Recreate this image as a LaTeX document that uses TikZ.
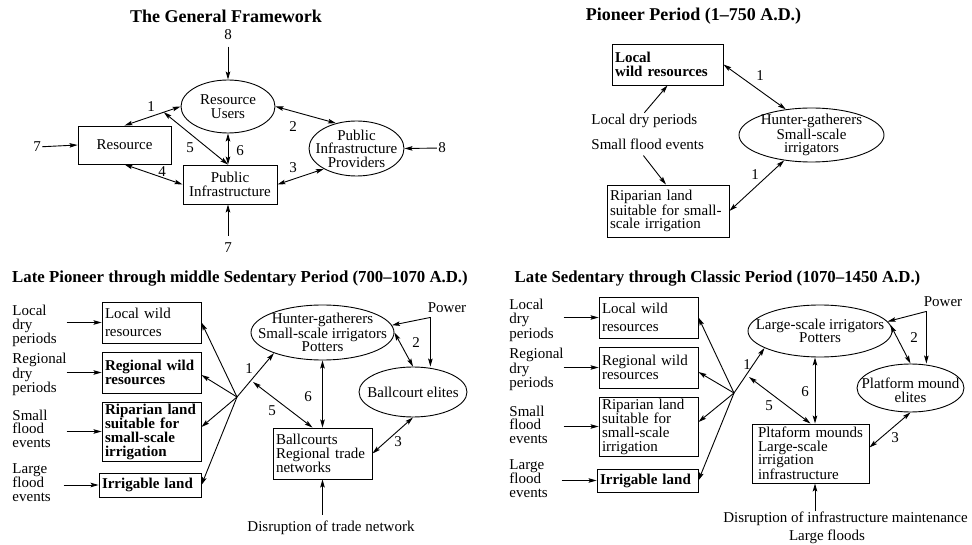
\documentclass[tikz,border=0pt]{standalone}
\usepackage{fontspec}
\setmainfont{Liberation Serif}
\usetikzlibrary{shapes.geometric,arrows.meta}
\newcommand{\diagfont}{\fontsize{15}{13.6}\selectfont}
\newcommand{\headfont}{\fontsize{18}{20}\selectfont\bfseries}

\begin{document}
\begin{tikzpicture}
[
x=1pt, y=-1pt,
line width=0.9pt,
every node/.style={font=\diagfont, inner sep=1pt},
title/.style={font=\headfont},
small title/.style={font=\fontsize{16.8}{20}\selectfont\bfseries},
box/.style={draw, align=left, inner xsep=3pt, inner ysep=0pt},
bold/.style={font=\diagfont\bfseries},
oval/.style={draw, ellipse, inner sep=0pt},
lbl/.style={anchor=west, align=left},
arr/.style={-{Stealth[length=8pt,width=4.5pt,inset=1.5pt]}},
darr/.style={{Stealth[length=8pt,width=4.5pt,inset=1.5pt]}-{Stealth[length=8pt,width=4.5pt,inset=1.5pt]}}
]
\useasboundingbox (0,0) rectangle (972,545);

% the general framework
\node[title] (t1) at (226,16) {The General Framework};
\node (e8a) at (228,35) {8};
\node[oval, minimum width=94pt, minimum height=53pt,
  label={[align=center]center:{Resource\\Users}}] (ru) at (228,106.5) {};
\node[box, align=center, minimum width=93pt, minimum height=38pt] (res) at (124.5,145) {Resource};
\node[box, align=center, minimum width=94pt, minimum height=39pt] (pi) at (230,184.5) {Public\\Infrastructure};
\node[oval, minimum width=95pt, minimum height=55pt,
  label={[align=center]center:{Public\\Infrastructure\\Providers}}] (pip) at (356.5,148.5) {};
\node (e7a) at (37,147) {7};
\node (e7b) at (228,248) {7};
\node (e8b) at (442,148) {8};
\draw[arr, shorten <=5pt] (e8a) -- (ru.north);
\draw[arr] (e7a) -- (res.west);
\draw[arr, shorten <=6pt] (e7b) -- (e7b |- pi.south);
\draw[arr] (e8b) -- (pip.east);
\path (res.north) -- coordinate[pos=0.7] (m1) (ru.west);
\draw[darr] (res.north) -- (ru.west);
\draw[darr] (m1) -- (ru.south |- pi.north);
\draw[darr] (ru.south) -- (ru.south |- pi.north);
\draw[darr] (ru.east) -- (pip.129);
\draw[darr] (pi.east) -- (pip.212);
\draw[darr] (res.south) -- (pi.west);
\node (n1a) at (151,107) {1};
\node (n5a) at (190,148) {5};
\node (n6a) at (240,151) {6};
\node (n2a) at (293,127) {2};
\node (n3a) at (293,168) {3};
\node (n4a) at (162,172) {4};

% pioneer period
\node[title] (t2) at (693.5,16) {Pioneer Period (1--750 A.D.)};
\node[box, bold, text width=105pt, minimum height=41pt] (lwr2) at (667.5,64.5) {Local\\wild resources};
\node[oval, minimum width=145pt, minimum height=54pt,
  label={[align=center]center:{Hunter-gatherers\\Small-scale\\irrigators}}] (hg2) at (811.5,135) {};
\node[box, text width=116pt, minimum height=52pt] (rip2) at (668,211) {Riparian land\\suitable for small-\\scale irrigation};
\node[anchor=west] (ldp2) at (590,121) {Local dry periods};
\node[anchor=west] (sfe2) at (590,144) {Small flood events};
\draw[darr] (lwr2.east) -- (hg2.135);
\draw[darr] (rip2.east) -- (hg2.223);
\draw[arr] (ldp2.north) -- (lwr2.south);
\draw[arr, shorten <=6pt] ([xshift=-8pt]sfe2.south) -- ([xshift=-2pt]rip2.north);
\node (n1b) at (760,76) {1};
\node (n1c) at (755,175) {1};

% late pioneer through middle sedentary
\node[small title] (t3) at (240,279) {Late Pioneer through middle Sedentary Period (700--1070 A.D.)};
\node[lbl] (ldp3) at (11,326) {Local\\dry\\periods};
\node[lbl] (rdp3) at (11,374.5) {Regional\\dry\\periods};
\node[lbl] (sfe3) at (11,428.5) {Small\\flood\\events};
\node[lbl] (lfe3) at (11,482.5) {Large\\flood\\events};
\node[box, text width=93pt, minimum height=41pt] (lw3) at (151.5,322.5) {Local wild\\[4.5pt]resources};
\node[box, bold, text width=93pt, minimum height=41pt] (rw3) at (151.5,372.5) {Regional wild\\resources};
\node[box, bold, text width=93pt, minimum height=59pt] (rl3) at (151.5,431.5) {Riparian land\\suitable for\\small-scale\\irrigation};
\node[box, bold, text width=96pt, minimum height=24pt] (il3) at (150,485) {Irrigable land};
\foreach \b in {lw3,rw3,rl3,il3}
  \draw[arr] ([xshift=-35pt]\b.west) -- (\b.west);
\node[oval, minimum width=143pt, minimum height=55pt,
  label={[align=center]center:{Hunter-gatherers\\Small-scale irrigators\\Potters}}] (hg3) at (322.5,332.5) {};
\node[oval, minimum width=108pt, minimum height=50pt,
  label={center:Ballcourt elites}] (be3) at (413,392) {};
\node[box, text width=93pt, minimum height=51pt] (bc3) at (322.5,453.5) {Ballcourts\\Regional trade\\networks};
\node (pw3) at (447,308) {Power};
\node (dis3) at (331,528) {Disruption of trade network};
\coordinate (fan3) at (237,397);
\coordinate (m3) at (253,382);
\coordinate (pj3) at ([xshift=4pt,yshift=-3pt]pw3.south west);
\draw[arr] (fan3) -- (lw3.east);
\draw[arr] (fan3) -- ([yshift=-2.5pt]rw3.east);
\draw[arr] (fan3) -- ([yshift=4.5pt]rl3.east);
\draw[arr] (fan3) -- (il3.east);
\draw[arr] (fan3) -- (hg3.203);
\draw[darr] (m3) -- ([xshift=-10pt]bc3.north);
\draw[darr] (hg3.south) -- (hg3.south |- bc3.north);
\draw[darr] (hg3.east) -- (be3.north);
\draw[arr] (pj3) -- (hg3.6);
\draw[arr] (pj3) -- (pj3 |- be3.north);
\draw[darr] (bc3.east) -- (be3.south);
\draw[arr, shorten <=5pt] (dis3.north -| bc3.south) -- (bc3.south);
\node (n1d) at (249,369) {1};
\node (n5d) at (272,411) {5};
\node (n6d) at (308,397) {6};
\node (n2d) at (416,343) {2};
\node (n3d) at (398,442) {3};

% late sedentary through classic
\node[small title] (t4) at (717.5,279) {Late Sedentary through Classic Period (1070--1450 A.D.)};
\node[lbl] (ldp4) at (508,320.5) {Local\\dry\\periods};
\node[lbl] (rdp4) at (508,369.5) {Regional\\dry\\periods};
\node[lbl] (sfe4) at (508,424.5) {Small\\flood\\events};
\node[lbl] (lfe4) at (508,478.5) {Large\\flood\\events};
\node[box, text width=93pt, minimum height=41pt] (lw4) at (648.5,317.5) {Local wild\\[4.5pt]resources};
\node[box, text width=93pt, minimum height=41pt] (rw4) at (648.5,367.5) {Regional wild\\resources};
\node[box, text width=93pt, minimum height=59pt] (rl4) at (648.5,426.5) {Riparian land\\suitable for\\small-scale\\irrigation};
\node[box, bold, text width=95pt, minimum height=23pt] (il4) at (647.5,480.5) {Irrigable land};
\foreach \b in {lw4,rw4,rl4,il4}
  \draw[arr] ([xshift=-35pt]\b.west) -- (\b.west);
\node[oval, minimum width=144pt, minimum height=52pt,
  label={[align=center]center:{Large-scale irrigators\\Potters}}] (lsi4) at (820,331) {};
\node[oval, minimum width=107pt, minimum height=48pt,
  label={[align=center, yshift=-2pt]center:{Platform mound\\elites}}] (pme4) at (910.5,388) {};
\node[box, inner xsep=6pt, text width=105pt, minimum height=59pt] (pm4) at (810.5,453.5) {Pltaform mounds\\Large-scale\\irrigation\\infrastructure};
\node (pw4) at (943,302) {Power};
\node (dim4) at (845.5,519) {Disruption of infrastructure maintenance};
\node (lfl4) at (827,537) {Large floods};
\coordinate (fan4) at (734,393);
\coordinate (m4) at (749,377);
\coordinate (pj4) at ([xshift=4pt,yshift=-3pt]pw4.south west);
\coordinate (c6) at ([xshift=-5pt]lsi4.south);
\coordinate (c7) at ([xshift=4.5pt]pm4.south);
\draw[arr] (fan4) -- (lw4.east);
\draw[arr] (fan4) -- ([yshift=-4.5pt]rw4.east);
\draw[arr] (fan4) -- ([yshift=4.5pt]rl4.east);
\draw[arr] (fan4) -- (il4.east);
\draw[arr] (fan4) -- (lsi4.197);
\draw[darr] (m4) -- (pm4.north);
\draw[darr] (c6) -- (c6 |- pm4.north);
\draw[darr] (lsi4.5) -- (pme4.north);
\draw[arr] (pj4) -- (lsi4.8);
\draw[arr] (pj4) -- (pj4 |- pme4.north);
\draw[darr] ([yshift=6pt]pm4.east) -- (pme4.south);
\draw[arr] (dim4.north -| c7) -- (c7);
\node (n1e) at (747,365) {1};
\node (n5e) at (769,406) {5};
\node (n6e) at (805,392) {6};
\node (n2e) at (914,338) {2};
\node (n3e) at (895,438) {3};
\end{tikzpicture}
\end{document}
